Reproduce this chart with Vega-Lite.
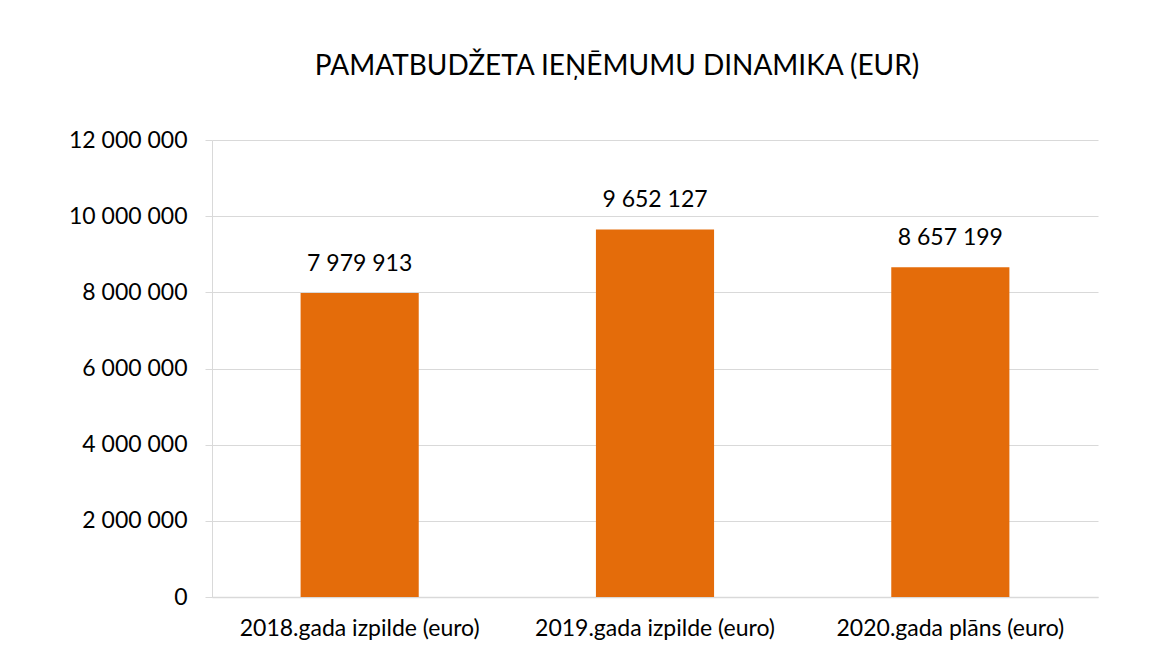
{
  "$schema": "https://vega.github.io/schema/vega-lite/v6.json",
  "width": 886,
  "height": 457,
  "autosize": {"type": "none"},
  "padding": {"left": 212, "top": 140, "right": 56, "bottom": 73},
  "background": "white",
  "config": {
    "locale": {"number": {"decimal": ",", "thousands": " ", "grouping": [3], "currency": ["", " €"]}},
    "font": "Lato",
    "view": {"stroke": null}
  },
  "title": {
    "text": "PAMATBUDŽETA IEŅĒMUMU DINAMIKA (EUR)",
    "font": "Lato",
    "fontSize": 28,
    "fontWeight": "normal",
    "color": "#000000",
    "anchor": "middle",
    "dx": -38,
    "offset": 48
  },
  "data": {
    "values": [
      {"kategorija": "2018.gada izpilde (euro)", "summa": 7979913},
      {"kategorija": "2019.gada izpilde (euro)", "summa": 9652127},
      {"kategorija": "2020.gada plāns (euro)", "summa": 8657199}
    ]
  },
  "encoding": {
    "x": {
      "field": "kategorija",
      "type": "nominal",
      "sort": null,
      "scale": {"paddingInner": 0.6, "paddingOuter": 0.3},
      "axis": {
        "title": null,
        "labelAngle": 0,
        "labelFontSize": 23,
        "labelLimit": 0,
        "labelColor": "#000000",
        "labelPadding": 20,
        "ticks": false,
        "domainColor": "#d9d9d9",
        "domainWidth": 1.3
      }
    },
    "y": {
      "field": "summa",
      "type": "quantitative",
      "scale": {"domain": [0, 12000000]},
      "axis": {
        "title": null,
        "values": [0, 2000000, 4000000, 6000000, 8000000, 10000000, 12000000],
        "format": ",d",
        "labelFontSize": 23,
        "labelColor": "#000000",
        "labelPadding": 18,
        "tickSize": 7,
        "tickColor": "#d9d9d9",
        "domainColor": "#d9d9d9",
        "gridColor": "#d9d9d9",
        "grid": true
      }
    }
  },
  "layer": [
    {"mark": {"type": "bar", "color": "#E46C0A"}},
    {
      "mark": {"type": "text", "baseline": "bottom", "dy": -17, "fontSize": 23, "color": "#000000"},
      "encoding": {"text": {"field": "summa", "type": "quantitative", "format": ",d"}}
    }
  ]
}
